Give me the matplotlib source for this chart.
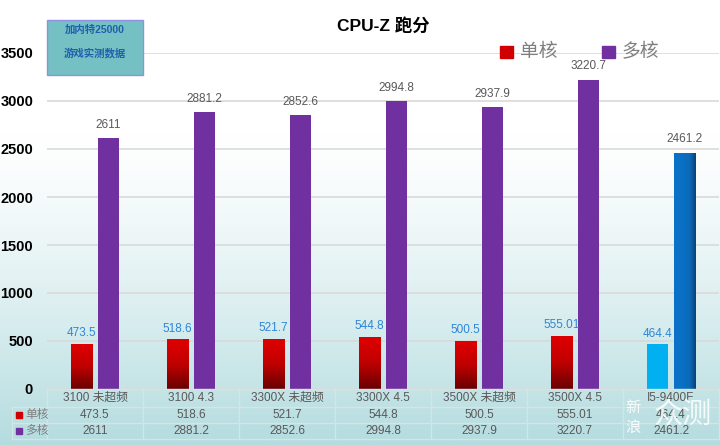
import numpy as np
import matplotlib.pyplot as plt
from matplotlib.patches import Rectangle
from matplotlib.colors import LinearSegmentedColormap
from matplotlib.transforms import blended_transform_factory

plt.rcParams['font.family'] = ['Liberation Sans', 'Noto Sans CJK SC', 'DejaVu Sans']

# data
categories = ['3100 未超频', '3100 4.3', '3300X 未超频', '3300X 4.5',
              '3500X 未超频', '3500X 4.5', 'I5-9400F']
single_core = [473.5, 518.6, 521.7, 544.8, 500.5, 555.01, 464.4]
multi_core = [2611, 2881.2, 2852.6, 2994.8, 2937.9, 3220.7, 2461.2]
series_names = ['单核', '多核']
y_ticks = [0, 500, 1000, 1500, 2000, 2500, 3000, 3500]

W, H = 720, 445
fig = plt.figure(figsize=(W / 100, H / 100), dpi=100)


def fx(x):
    return x / W


def fy(y):
    return 1 - y / H


# background gradient (white at top -> light teal at bottom)
bg = fig.add_axes([0, 0, 1, 1], zorder=-10)
yy = np.linspace(0, 1, 300)
t = np.clip((yy - 0.3) / 0.7, 0, 1) ** 1.3
top = np.array([1.0, 1.0, 1.0])
bot = np.array([0xb4, 0xdc, 0xdf]) / 255
grad = (top[None, :] * (1 - t[:, None]) + bot[None, :] * t[:, None])[:, None, :]
bg.imshow(grad, aspect='auto', extent=[0, 1, 0, 1], origin='upper')
bg.axis('off')

ax = fig.add_axes([fx(47), fy(389), fx(719) - fx(47), fy(53) - fy(389)])
ax.set_facecolor('none')
ax.set_xlim(-0.5, len(categories) - 0.5)
ax.set_ylim(0, 3500)
ax.set_yticks(y_ticks)
ax.set_yticklabels([str(v) for v in y_ticks], fontsize=10.5, fontweight='bold')
ax.tick_params(axis='y', length=0, pad=10)
ax.set_xticks([])
for s in ax.spines.values():
    s.set_visible(False)
ax.grid(axis='y', color='#d9d9d9', lw=1.2, zorder=0)
ax.set_axisbelow(True)

x = np.arange(len(categories))
off, bw = 0.14, 0.22

red_cmap = LinearSegmentedColormap.from_list('r', ['#e00000', '#c00000', '#6a0000'])
blue_cmap = LinearSegmentedColormap.from_list('b', ['#0a72c8', '#0a6ab8', '#0b3f78'])


def grad_bar(patch, cmap, vertical=True):
    x0, y0 = patch.get_x(), patch.get_y()
    w, h = patch.get_width(), patch.get_height()
    if vertical:
        g = np.linspace(0, 1, 100)[:, None]
    else:
        g = np.linspace(0, 1, 100)[None, :] ** 2
    im = ax.imshow(g, cmap=cmap, aspect='auto', origin='upper',
                   extent=[x0, x0 + w, y0, y0 + h], zorder=2)
    im.set_clip_path(patch)


for i in range(len(categories)):
    last = i == len(categories) - 1
    s_col = '#00b0f0' if last else '#e00000'
    b1 = ax.bar(x[i] - off, single_core[i], bw, color=s_col, zorder=2)[0]
    if not last:
        grad_bar(b1, red_cmap)
    b2 = ax.bar(x[i] + off, multi_core[i], bw, color='#7030a0', zorder=2)[0]
    if last:
        grad_bar(b2, blue_cmap, vertical=False)
    ax.text(x[i] - off, single_core[i] + 110, '{:g}'.format(single_core[i]),
            ha='center', va='center', fontsize=8.5, color='#2e86d6')
    ax.text(x[i] + off, multi_core[i] + 140, '{:g}'.format(multi_core[i]),
            ha='center', va='center', fontsize=8.5, color='#595959')

ax.set_xlim(-0.5, len(categories) - 0.5)
ax.set_ylim(0, 3500)

# title
fig.text(fx(383), fy(25), 'CPU-Z 跑分', ha='center', va='center',
         fontsize=12.5, fontweight='bold', color='black')

# legend
fig.patches.append(Rectangle((fx(500), fy(58)), fx(13), fy(46) - fy(58),
                             transform=fig.transFigure, color='#d00000'))
fig.text(fx(520), fy(52), series_names[0], ha='left', va='center',
         fontsize=13.5, color='#7f7f7f')
fig.patches.append(Rectangle((fx(602), fy(58)), fx(13), fy(46) - fy(58),
                             transform=fig.transFigure, color='#7030a0'))
fig.text(fx(622), fy(52), series_names[1], ha='left', va='center',
         fontsize=13.5, color='#7f7f7f')

# note box
fig.patches.append(Rectangle((fx(47), fy(75)), fx(96), fy(20) - fy(75),
                             transform=fig.transFigure, facecolor='#74c0c2',
                             edgecolor='#9090e8', lw=1))
fig.text(fx(95), fy(30), '加内特25000', ha='center', va='center',
         fontsize=7.5, fontweight='bold', color='#1f5fae')
fig.text(fx(95), fy(53), '游戏实测数据', ha='center', va='center',
         fontsize=7.5, fontweight='bold', color='#1f5fae')

# data table under the chart
tr = blended_transform_factory(ax.transData, fig.transFigure)
line_c = '#d6e4e4'
row_y = [389, 407, 423, 439]
for i in range(len(categories) + 1):
    ax.plot([i - 0.5, i - 0.5], [fy(389), fy(439)], transform=tr,
            color=line_c, lw=1, clip_on=False)
ax.plot([-0.5, 6.5], [fy(389), fy(389)], transform=tr, color=line_c,
        lw=1, clip_on=False)
for yv in row_y[1:]:
    fig.add_artist(plt.Line2D([fx(12), fx(719)], [fy(yv), fy(yv)],
                              color=line_c, lw=1))
fig.add_artist(plt.Line2D([fx(12), fx(12)], [fy(407), fy(439)],
                          color=line_c, lw=1))

for i, c in enumerate(categories):
    ax.text(i, fy(398), c, transform=tr, ha='center', va='center',
            fontsize=8.5, color='#595959')
    ax.text(i, fy(415), '{:g}'.format(single_core[i]), transform=tr,
            ha='center', va='center', fontsize=8.5, color='#595959')
    ax.text(i, fy(431), '{:g}'.format(multi_core[i]), transform=tr,
            ha='center', va='center', fontsize=8.5, color='#595959')

for yc, col, name in [(415, '#d00000', series_names[0]),
                      (431, '#7030a0', series_names[1])]:
    fig.patches.append(Rectangle((fx(16), fy(yc + 3)), fx(6), fy(yc - 3) - fy(yc + 3),
                                 transform=fig.transFigure, color=col))
    fig.text(fx(25), fy(yc), name, ha='left', va='center', fontsize=8.5,
             color='#7f7f7f')

# watermark
fig.text(fx(633), fy(408), '新', ha='center', va='center', fontsize=11,
         color='white', alpha=0.9)
fig.text(fx(633), fy(428), '浪', ha='center', va='center', fontsize=11,
         color='white', alpha=0.9)
fig.text(fx(683), fy(416), '众测', ha='center', va='center', fontsize=21,
         color='white', alpha=0.85)

fig.savefig('out.png', dpi=100)
